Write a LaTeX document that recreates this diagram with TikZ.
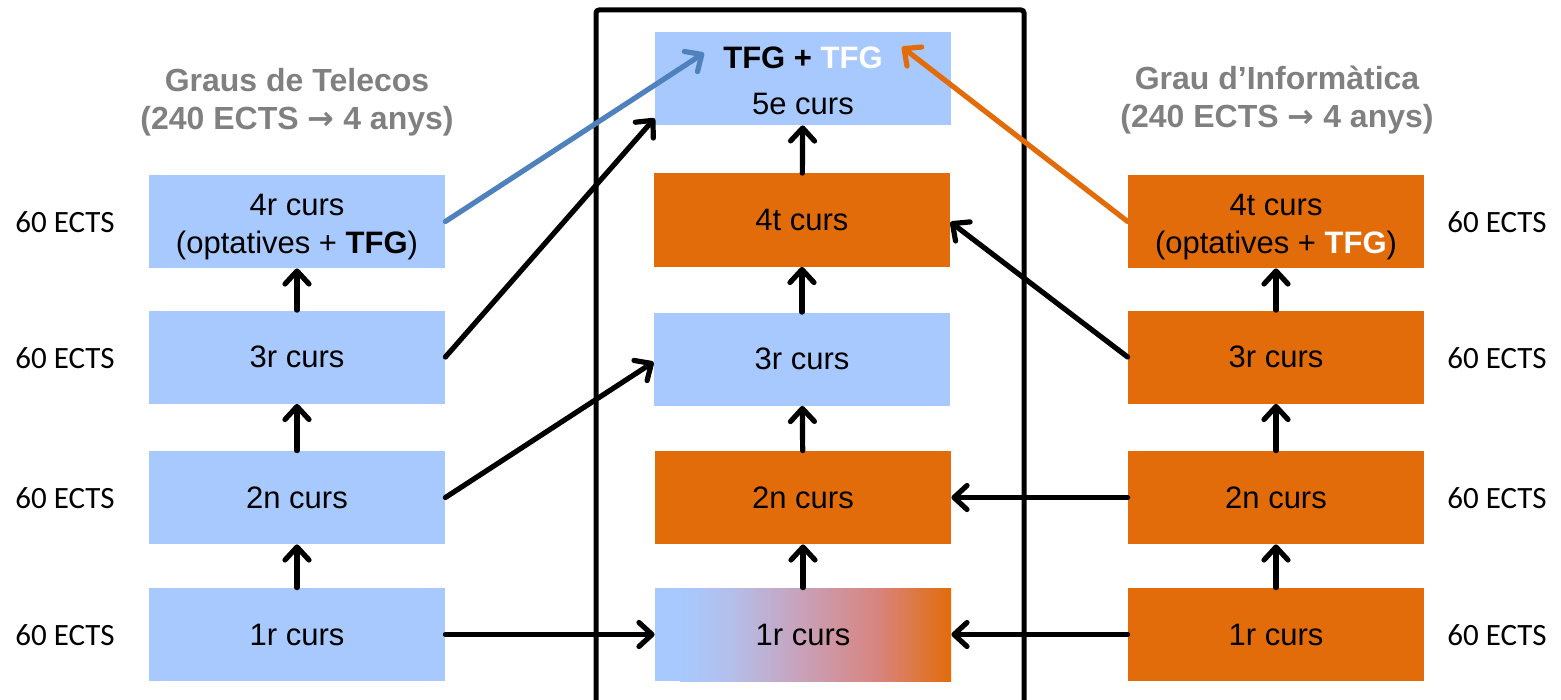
\documentclass[tikz,border=0pt]{standalone}
\usepackage{fontspec}
\setmainfont{Liberation Sans}
\newfontfamily\carlito{Carlito}
\newfontfamily\dejavu{DejaVu Sans}
\usetikzlibrary{arrows.meta}
\definecolor{lblue}{HTML}{A7C9FE}
\definecolor{orng}{HTML}{E36C0A}
\definecolor{arrblue}{HTML}{4F81BD}
\definecolor{tgray}{HTML}{808080}
\definecolor{gA}{HTML}{B4BFEB}
\definecolor{gB}{HTML}{C9A0B8}
\definecolor{gC}{HTML}{D8847E}
\begin{document}
\begin{tikzpicture}[x=0.5pt,y=-0.5pt,
  txt/.style={inner sep=0pt,align=center,font=\fontsize{15.5}{19}\selectfont},
  box/.style={txt,minimum width=148pt,minimum height=46.5pt},
  bl/.style={box,fill=lblue},
  og/.style={box,fill=orng},
  arr/.style={line width=2.6pt,line cap=round,-{Straight Barb[round,length=6.5pt,width=12pt]}},
  ects/.style={font=\carlito\fontsize{15.5}{19}\selectfont},
  ttl/.style={align=center,text=tgray,font=\bfseries\fontsize{16}{19}\selectfont}]
\useasboundingbox (0,0) rectangle (1561,700);
% frame
\draw[line width=2.5pt,rounded corners=1.5pt] (596,720) -- (596,10) -- (1024,10) -- (1024,720);
% titles
\node[ttl] (tl) at (297,102) {Graus de Telecos\\(240 ECTS {\dejavu\bfseries →} 4 anys)};
\node[ttl] (tr) at (1277,100) {Grau d’Informàtica\\(240 ECTS {\dejavu\bfseries →} 4 anys)};
% left column
\node[bl,label={[txt,yshift=-3pt]center:4r curs\\(optatives + \textbf{TFG})}] (L4) at (297,221.5) {};
\node[bl] (L3) at (297,357) {3r curs};
\node[bl] (L2) at (297,497.5) {2n curs};
\node[bl] (L1) at (297,634.5) {1r curs};
% center column
\node[bl,label={[txt,yshift=-1pt]center:\textbf{TFG + \textcolor{white}{TFG}}\\[4pt]5e curs}] (C5) at (803,78.5) {};
\node[og] (C4) at (802,220) {4t curs};
\node[bl] (C3) at (802,359) {3r curs};
\node[og] (C2) at (803,497.5) {2n curs};
% gradient fill of centre 1r curs
\fill[lblue] (655,588) rectangle (681,681);
\shade[left color=lblue,right color=gA] (680,588) rectangle (731,681);
\shade[left color=gA,right color=gB] (730,588) rectangle (804,681);
\shade[left color=gB,right color=gC] (803,588) rectangle (879,681);
\shade[left color=gC,right color=orng] (878,588) rectangle (951,681);
\node[box] (C1) at (803,634.5) {1r curs};
% right column
\node[og,label={[txt,yshift=-3pt]center:4t curs\\(optatives + \textbf{\textcolor{white}{TFG}})}] (R4) at (1276,221.5) {};
\node[og] (R3) at (1276,357) {3r curs};
\node[og] (R2) at (1276,497.5) {2n curs};
\node[og] (R1) at (1276,634.5) {1r curs};
% ECTS labels
\foreach \n/\y in {a/222,b/358,c/498,d/635}{
  \node[ects] (el\n) at (65,\y) {60 ECTS};
  \node[ects] (er\n) at (1497,\y) {60 ECTS};
}
% vertical arrows
\draw[arr] (L1) -- (L2);
\draw[arr] (L2) -- (L3);
\draw[arr] (L3) -- (L4);
\draw[arr] (C1) -- (C2);
\draw[arr] (C2) -- (C3);
\draw[arr] (C3) -- (C4);
\draw[arr] (C4) -- (C5);
\draw[arr] (R1) -- (R2);
\draw[arr] (R2) -- (R3);
\draw[arr] (R3) -- (R4);
% cross arrows
\coordinate (bt) at (704,53);
\coordinate (ot) at (902,47);
\draw[arr,color=arrblue] (L4.east) -- (bt);
\draw[arr,color=orng] (R4.west) -- (ot);
\draw[arr] (L3.east) -- ([yshift=3.5pt]C5.south west);
\draw[arr] (L2.east) -- ([yshift=-1.5pt]C3.west);
\draw[arr] (L1.east) -- (C1.west);
\draw[arr] (R3.west) -- ([yshift=-1pt]C4.east);
\draw[arr] (R2.west) -- (C2.east);
\draw[arr] (R1.west) -- (C1.east);
\end{tikzpicture}
\end{document}
